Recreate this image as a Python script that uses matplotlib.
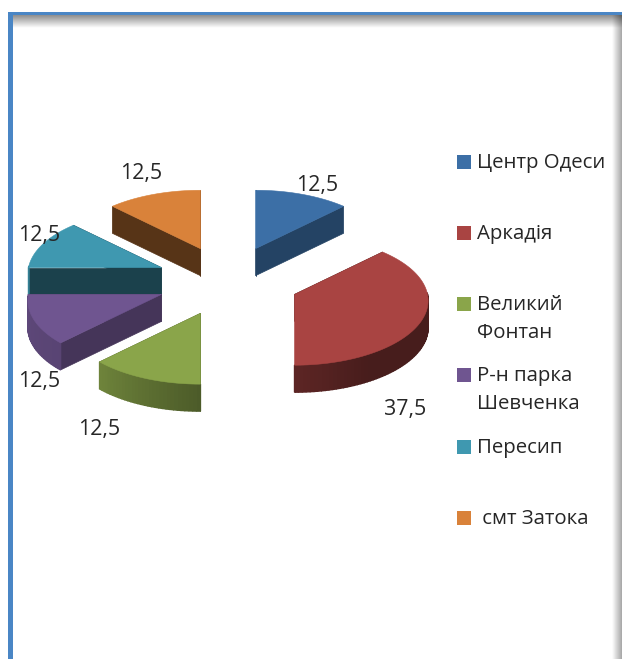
import numpy as np
import matplotlib
matplotlib.use("Agg")
import matplotlib.pyplot as plt
from matplotlib.patches import Polygon, Rectangle
from matplotlib.colors import to_rgb

categories = ["Центр Одеси", "Аркадія", "Великий\nФонтан", "Р-н парка\nШевченка", "Пересип", " смт Затока"]
values = [12.5, 37.5, 12.5, 12.5, 12.5, 12.5]

colors = ["#3c6fa6", "#a94442", "#8aa54a", "#6f5590", "#3f98b0", "#d9823a"]
radial_dark = [0.60, 0.42, 0.55, 0.62, 0.43, 0.40]
label_pos = [(317, 185), (405, 410), (99, 429), (39, 382), (39, 235), (141, 173)]
legend_y = [162, 233, 304, 375, 447, 518]
draw_order = [5, 0, 4, 1, 3, 2]

W, H = 622, 659
CX, CY = 228, 281
RX, RY, K = 133, 64, 0.096
EX, EY = 72, 35
DEPTH = 27
FONT = "Open Sans"
FS = 14.7
LABEL_FS = 15.4
INK = "#262626"

fig = plt.figure(figsize=(W / 100, H / 100), dpi=100, facecolor="white")
ax = fig.add_axes([0, 0, 1, 1])
ax.set_xlim(0, W)
ax.set_ylim(H, 0)
ax.axis("off")


def project(angle_deg, cx, cy, r=1.0):
    a = np.radians(angle_deg)
    X, Y = r * np.cos(a), r * np.sin(a)
    d = 1 + K * Y
    return cx + RX * X / d, cy - RY * Y / d


def arc_shade(angle):
    a = np.mod(angle, 360)
    return np.interp(a, [0, 180, 225, 270, 300, 360], [0.42, 0.85, 0.8, 0.55, 0.42, 0.42])


# frame: shadow gradients, then the blue border
grad_v = np.linspace(0.45, 0, 64).reshape(-1, 1)
ax.imshow(np.dstack([np.zeros((64, 1, 3)), grad_v]), extent=(13, W, 28, 15), aspect="auto", zorder=1)
grad_h = np.linspace(0, 0.35, 64).reshape(1, -1)
ax.imshow(np.dstack([np.zeros((1, 64, 3)), grad_h]), extent=(612, W, H, 15), aspect="auto", zorder=1)
ax.set_xlim(0, W)
ax.set_ylim(H, 0)
ax.add_patch(Rectangle((8, 12), 5, H - 12, fc="#4a86c5", ec="none", zorder=2))
ax.add_patch(Rectangle((8, 12), W - 8, 3, fc="#4a86c5", ec="none", zorder=2))

# slices
total = sum(values)
edges = [90.0]
for v in values:
    edges.append(edges[-1] - v / total * 360)

z = 3.0
for i in draw_order:
    a0, a1 = edges[i], edges[i + 1]
    mid = np.radians((a0 + a1) / 2)
    cx = CX + EX * np.cos(mid)
    cy = CY - EY * np.sin(mid)
    base = np.array(to_rgb(colors[i]))
    n = max(8, int((a0 - a1) / 1.5))
    angles = np.linspace(a0, a1, n + 1)
    xs, ys = project(angles, cx, cy)

    # radial walls
    for a in (a0, a1):
        ex, ey = project(a, cx, cy)
        ax.add_patch(Polygon([(cx, cy), (ex, ey), (ex, ey + DEPTH), (cx, cy + DEPTH)],
                             fc=base * radial_dark[i], ec=base * radial_dark[i], lw=0.5, zorder=z))
    z += 0.01
    # outer wall with shading, only on the front half of the rim
    for j in range(n):
        am = (angles[j] + angles[j + 1]) / 2
        if np.sin(np.radians(am)) > 0.02:
            continue
        col = base * arc_shade(am)
        ax.add_patch(Polygon([(xs[j], ys[j]), (xs[j + 1], ys[j + 1]),
                              (xs[j + 1], ys[j + 1] + DEPTH), (xs[j], ys[j] + DEPTH)],
                             fc=col, ec=col, lw=1.0, zorder=z))
    z += 0.01
    # top face
    ax.add_patch(Polygon(np.column_stack([np.r_[cx, xs], np.r_[cy, ys]]),
                         closed=True, fc=base, ec=base, lw=0.4, zorder=z))
    z += 0.01

# data labels
for v, (lx, ly) in zip(values, label_pos):
    ax.text(lx, ly, f"{v:.1f}".replace(".", ","), ha="center", va="center",
            family=FONT, fontsize=LABEL_FS, color=INK, zorder=20)

# legend
for name, col, ly in zip(categories, colors, legend_y):
    ax.add_patch(Rectangle((457, ly - 7), 14, 14, fc=col, ec="none", zorder=20))
    ax.text(477, ly + 14 * name.count("\n") + 1, name, ha="left", va="center", family=FONT,
            fontsize=FS, color=INK, linespacing=1.5, zorder=20)

fig.savefig("out.png", dpi=100, facecolor="white")
